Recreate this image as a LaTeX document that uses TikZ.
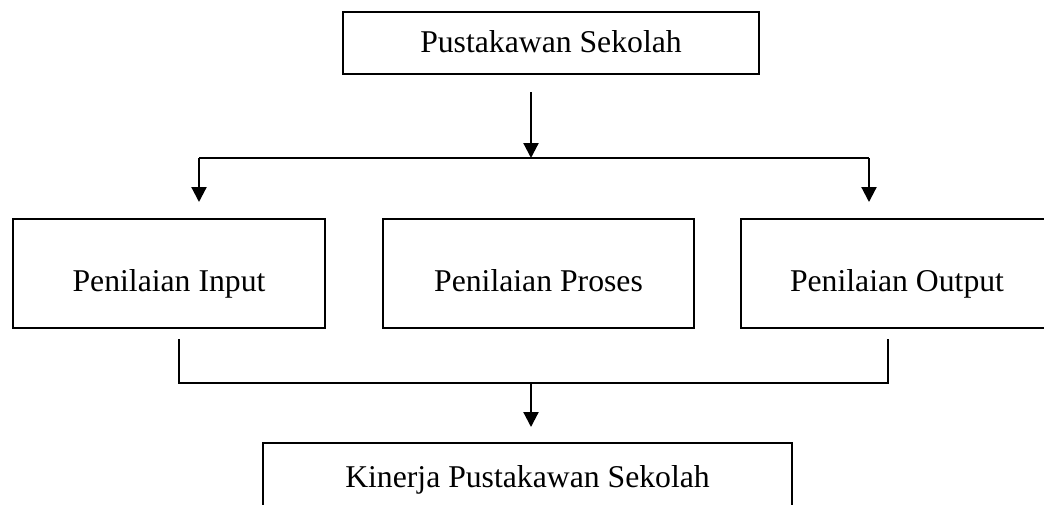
\documentclass[tikz,border=0pt]{standalone}
\usepackage{fontspec}
\setmainfont{Liberation Serif}
\usetikzlibrary{arrows.meta}
\begin{document}
\begin{tikzpicture}[x=1pt,y=1pt,
  box/.style={draw=black, line width=2.2pt, rectangle, inner sep=0pt,
    text depth=0pt, font=\fontsize{31.7}{38}\selectfont},
  conn/.style={line width=2.2pt},
  arr/.style={line width=2.2pt, -{Triangle[width=15pt,length=15pt]}}]
\useasboundingbox (0,0) rectangle (1044,-504);
\clip (0,0) rectangle (1044,-504);
\fill[white] (0,0) rectangle (1044,-504);
% boxes
\node[box, text height=18pt, minimum width=416pt, minimum height=62pt] (top) at (551,-43) {Pustakawan Sekolah};
\node[box, text height=35pt, minimum width=312pt, minimum height=109pt] (inp) at (169,-273.5) {Penilaian Input};
\node[box, text height=35pt, minimum width=311pt, minimum height=109pt] (pro) at (538.5,-273.5) {Penilaian Proses};
\node[box, text height=35pt, minimum width=312pt, minimum height=109pt] (out) at (897,-273.5) {Penilaian Output};
\node[box, text height=20pt, minimum width=529pt, minimum height=68pt] (kin) at (527.5,-477) {Kinerja Pustakawan Sekolah};
% coordinates
\coordinate (s1) at (531,-92);
\coordinate (j1) at (531,-158);
\coordinate (jl) at (199,-158);
\coordinate (jr) at (869,-158);
\coordinate (tl) at (199,-202);
\coordinate (tr) at (869,-202);
\coordinate (bl) at (179,-339);
\coordinate (br) at (888,-339);
\coordinate (hl) at (179,-383);
\coordinate (hr) at (888,-383);
\coordinate (j2) at (531,-383);
\coordinate (t2) at (531,-427);
% connectors
\draw[arr] (s1) -- (j1);
\draw[conn] (jl) -- (jr);
\draw[arr] (jl) -- (tl);
\draw[arr] (jr) -- (tr);
\draw[conn] (bl) -- (hl) -- (hr) -- (br);
\draw[arr] (j2) -- (t2);
\end{tikzpicture}
\end{document}
